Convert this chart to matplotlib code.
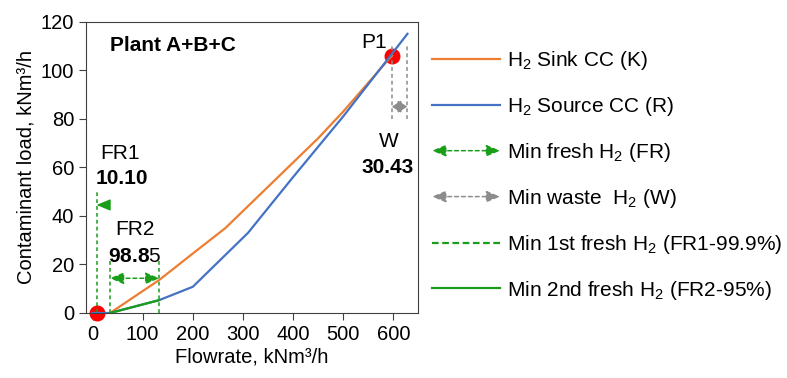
import matplotlib
matplotlib.use("Agg")
import matplotlib.pyplot as plt
from matplotlib.lines import Line2D
from matplotlib.patches import FancyArrowPatch
from matplotlib.legend_handler import HandlerBase

plt.rcParams['font.family'] = ['Liberation Sans', 'DejaVu Sans']
plt.rcParams['mathtext.fontset'] = 'custom'
plt.rcParams['mathtext.rm'] = 'Liberation Sans'
plt.rcParams['mathtext.bf'] = 'Liberation Sans:bold'

# composite curves (flowrate, contaminant load)
sink_x = [35, 133, 200, 265, 310, 400, 450, 500, 597]
sink_y = [0, 13.6, 24.5, 35, 44, 62, 72, 83, 106]
source_x = [0, 35, 133, 200, 310, 400, 500, 628]
source_y = [0, 0, 5.3, 10.8, 33, 56, 81, 115]
fr2_x = [35, 133]
fr2_y = [0, 5.3]

# pinch / key points
dots_x = [8, 597]
dots_y = [0, 106]

# targets
fr1_x = 8
fr2_left, fr2_right = 34.5, 133.35
w_left, w_right = 597, 627.43
fr1_top, fr2_top = 50, 22
w_bottom, w_top = 80, 111

xticks = [0, 100, 200, 300, 400, 500, 600]
yticks = [0, 20, 40, 60, 80, 100, 120]

orange = '#ED7D31'
blue = '#4472C4'
green = '#1a9e1a'
grey = '#8c8c8c'
dash = (0, (2.5, 2))
fs = 15


class ArrowHandler(HandlerBase):
    def create_artists(self, legend, orig_handle, xdescent, ydescent,
                       width, height, fontsize, trans):
        y = height / 2 - ydescent
        a = FancyArrowPatch((-xdescent, y), (width - xdescent, y),
                            arrowstyle=orig_handle.get_arrowstyle(),
                            mutation_scale=orig_handle.get_mutation_scale(),
                            color=orig_handle.get_edgecolor(),
                            linestyle=orig_handle.get_linestyle(),
                            lw=orig_handle.get_linewidth(),
                            shrinkA=0, shrinkB=0, transform=trans)
        return [a]


fig = plt.figure(figsize=(7.87, 3.78), dpi=100)
ax = fig.add_axes([0.1093, 0.172, 0.4218, 0.7706])

ax.scatter(dots_x, dots_y, s=110, color='#ff0000', zorder=2, clip_on=False)
ax.plot(sink_x, sink_y, color=orange, lw=1.6, zorder=3)
ax.plot(source_x, source_y, color=blue, lw=1.6, zorder=3)
ax.plot(fr2_x, fr2_y, color=green, lw=1.6, zorder=4)

# dotted guide lines
ax.plot([fr1_x, fr1_x], [0, fr1_top], color=green, lw=1.1, ls=dash)
for xx in (fr2_left, fr2_right):
    ax.plot([xx, xx], [0, fr2_top], color=green, lw=1.1, ls=dash)
for xx in (w_left, w_right):
    ax.plot([xx, xx], [w_bottom, w_top], color=grey, lw=1.1, ls=dash)

# arrows
ax.annotate('', xy=(fr1_x, 44.5), xytext=(30, 44.5),
            arrowprops=dict(arrowstyle='-|>,head_length=0.6,head_width=0.25',
                            mutation_scale=14, color=green, shrinkA=0, shrinkB=0))
ax.annotate('', xy=(fr2_left, 14.3), xytext=(fr2_right, 14.3),
            arrowprops=dict(arrowstyle='<|-|>,head_length=0.6,head_width=0.25',
                            mutation_scale=14, color=green, ls=dash, lw=1.1,
                            shrinkA=0, shrinkB=0))
ax.annotate('', xy=(w_left, 85), xytext=(w_right, 85),
            arrowprops=dict(arrowstyle='<|-|>,head_length=0.6,head_width=0.4',
                            mutation_scale=9, color=grey, lw=1.1,
                            shrinkA=0, shrinkB=0))

# labels
ax.text(35, 110, 'Plant A+B+C', fontsize=fs, fontweight='bold', va='center')
ax.text(535, 111.5, 'P1', fontsize=fs, va='center')
ax.text(591, 70.5, 'W', fontsize=fs, ha='center', va='center')
ax.text(588, 60, '30.43', fontsize=fs, fontweight='bold', ha='center', va='center')
ax.text(55, 65.7, 'FR1', fontsize=fs, ha='center', va='center')
ax.text(58, 55.4, '10.10', fontsize=fs, fontweight='bold', ha='center', va='center')
ax.text(84.6, 34.2, 'FR2', fontsize=fs, ha='center', va='center')
ax.text(84.6, 23.2, r'$\mathbf{98.8}$5', fontsize=fs, ha='center', va='center')

ax.set_xlim(-13, 649)
ax.set_ylim(0, 120)
ax.set_xticks(xticks)
ax.set_yticks(yticks)
ax.tick_params(labelsize=14.5, direction='out', length=5, color='#404040')
for s in ax.spines.values():
    s.set_color('#404040')
ax.set_xlabel('Flowrate, kNm³/h', fontsize=14.5, labelpad=3)
ax.set_ylabel('Contaminant load, kNm³/h', fontsize=14.5, labelpad=4)

handles = [
    Line2D([], [], color=orange, lw=1.6),
    Line2D([], [], color=blue, lw=1.6),
    FancyArrowPatch((0, 0), (1, 0), arrowstyle='<|-|>,head_length=0.6,head_width=0.25',
                    mutation_scale=14, color=green, ls=dash, lw=1.1),
    FancyArrowPatch((0, 0), (1, 0), arrowstyle='<|-|>,head_length=0.6,head_width=0.25',
                    mutation_scale=14, color=grey, ls=dash, lw=1.1),
    Line2D([], [], color=green, lw=1.6, ls=(0, (3, 1.6))),
    Line2D([], [], color=green, lw=1.6),
]
labels = [
    'H$_2$ Sink CC (K)',
    'H$_2$ Source CC (R)',
    'Min fresh H$_2$ (FR)',
    'Min waste  H$_2$ (W)',
    'Min 1st fresh H$_2$ (FR1-99.9%)',
    'Min 2nd fresh H$_2$ (FR2-95%)',
]
fig.legend(handles, labels, loc='upper left', bbox_to_anchor=(0.549, 0.870),
           frameon=False, fontsize=fs, borderpad=0, borderaxespad=0,
           handlelength=3.27, handletextpad=0.34, labelspacing=1.1,
           handler_map={FancyArrowPatch: ArrowHandler()})

fig.savefig('out.png', dpi=100)
